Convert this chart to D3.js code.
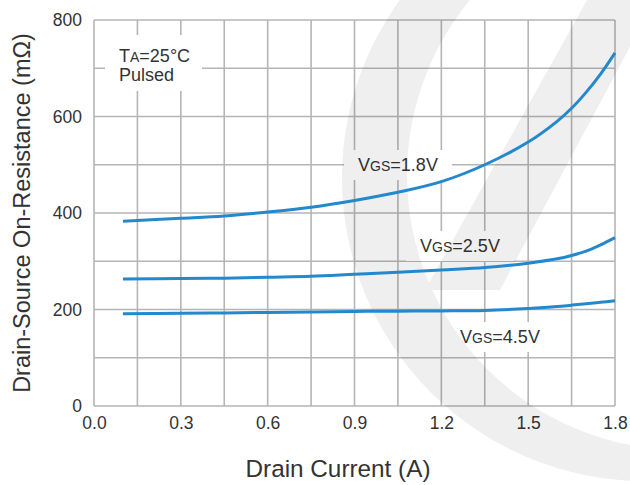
<!DOCTYPE html>
<html>
<head>
<meta charset="utf-8">
<script src="https://cdn.jsdelivr.net/npm/d3@7"></script>
<style>
  html, body { margin: 0; padding: 0; background: #fff; }
  svg { display: block; }
  text { font-family: "Liberation Sans", Arial, Helvetica, sans-serif; fill: #333; }
</style>
</head>
<body>
<svg id="chart" width="630" height="485"></svg>
<script>
// Drain current (A) sample points
const currentA = [0.1, 0.3, 0.45, 0.6, 0.75, 0.9, 1.05, 1.2, 1.35, 1.5, 1.6, 1.65, 1.7, 1.75, 1.8];
// On-resistance (mOhm) for each gate-source voltage
const rdsVgs18 = [383, 389, 394, 402, 412, 426, 443, 465, 500, 547, 590, 617, 650, 688, 732];
const rdsVgs25 = [263, 264, 265, 267, 269, 273, 277, 282, 287, 296, 305, 312, 321, 334, 349];
const rdsVgs45 = [191, 192, 193, 194, 195, 196, 196.5, 197, 198, 202, 206, 209, 212, 215, 218];

const seriesNames = ["1.8V", "2.5V", "4.5V"];
const xTickValues = [0, 0.3, 0.6, 0.9, 1.2, 1.5, 1.8];
const yTickValues = [0, 200, 400, 600, 800];

const svg = d3.select("#chart");
const plot = { left: 94, right: 615, top: 20, bottom: 406 };

const x = d3.scaleLinear().domain([0, 1.8]).range([plot.left, plot.right]);
const y = d3.scaleLinear().domain([0, 800]).range([plot.bottom, plot.top]);

const gridColor = "#b5b5b8";
const lineColor = "#2389cc";

// grid (minor divisions every 0.15 A and 100 mOhm)
const grid = svg.append("g");
grid.selectAll("line.v").data(d3.range(0, 13).map(i => i * 0.15)).join("line")
  .attr("x1", d => x(d)).attr("x2", d => x(d))
  .attr("y1", plot.top).attr("y2", plot.bottom)
  .attr("stroke", gridColor).attr("stroke-width", 1.6);
grid.selectAll("line.h").data(d3.range(0, 9).map(i => i * 100)).join("line")
  .attr("x1", plot.left).attr("x2", plot.right)
  .attr("y1", d => y(d)).attr("y2", d => y(d))
  .attr("stroke", gridColor).attr("stroke-width", 1.6);

// axes: tick labels only
const xAxis = svg.append("g")
  .attr("transform", `translate(0,${plot.bottom + 8})`)
  .call(d3.axisBottom(x).tickValues(xTickValues).tickFormat(d3.format(".1f")).tickSize(0));
xAxis.select(".domain").remove();
xAxis.selectAll("text").attr("font-size", 17.5).attr("fill", "#333")
  .attr("font-family", "Liberation Sans, Arial, sans-serif");

const yAxis = svg.append("g")
  .attr("transform", `translate(${plot.left - 10},0)`)
  .call(d3.axisLeft(y).tickValues(yTickValues).tickFormat(d3.format("d")).tickSize(0));
yAxis.select(".domain").remove();
yAxis.selectAll("text").attr("font-size", 17.5).attr("fill", "#333")
  .attr("font-family", "Liberation Sans, Arial, sans-serif").attr("x", -2);

// axis titles
svg.append("text")
  .attr("x", 338).attr("y", 477)
  .attr("text-anchor", "middle").attr("font-size", 24.3)
  .text("Drain Current (A)");
svg.append("text")
  .attr("transform", `translate(30,${(plot.top + plot.bottom) / 2}) rotate(-90)`)
  .attr("text-anchor", "middle").attr("font-size", 23.5)
  .text("Drain-Source On-Resistance (mΩ)");

// labelled text blocks with white backing
function boxedLabel(parts, cx, baseline, padX, padY) {
  const g = svg.append("g");
  const rect = g.append("rect").attr("fill", "#fff");
  const t = g.append("text").attr("x", cx).attr("y", baseline)
    .attr("text-anchor", "middle").attr("font-size", 18);
  parts.forEach(p => t.append("tspan").attr("font-size", p.size || 18).text(p.text));
  const b = t.node().getBBox();
  rect.attr("x", b.x - padX).attr("y", b.y - padY)
    .attr("width", b.width + 2 * padX).attr("height", b.height + 2 * padY);
  return g;
}

const vgsLabels = [
  { name: seriesNames[0], cx: 398, base: 171 },
  { name: seriesNames[1], cx: 460, base: 252 },
  { name: seriesNames[2], cx: 500, base: 343 }
];
vgsLabels.forEach(l => {
  boxedLabel([{ text: "V" }, { text: "GS", size: 14 }, { text: "=" + l.name }], l.cx, l.base, 14, 5);
});

// ambient conditions block
const cond = svg.append("g");
cond.append("rect").attr("x", 105).attr("y", 35).attr("width", 97).attr("height", 56).attr("fill", "#fff");
const c1 = cond.append("text").attr("x", 119).attr("y", 62).attr("font-size", 18);
c1.append("tspan").text("T");
c1.append("tspan").attr("font-size", 14).text("A");
c1.append("tspan").text("=25°C");
cond.append("text").attr("x", 119).attr("y", 81).attr("font-size", 18).text("Pulsed");

// faint background emblem
const mark = svg.append("g").attr("opacity", 0.06);
const circ = (cx, cy, r) => `M${cx - r},${cy}a${r},${r} 0 1,0 ${2 * r},0a${r},${r} 0 1,0 ${-2 * r},0Z`;
mark.append("path")
  .attr("d", circ(645, 178, 303) + circ(682, 175, 275))
  .attr("fill-rule", "evenodd").attr("fill", "#000");
mark.append("path")
  .attr("d", "M587,0L655,0L500,290L425,290Z")
  .attr("fill", "#000");

// curves
const seriesData = [rdsVgs18, rdsVgs25, rdsVgs45];
const line = d3.line()
  .x((d, i) => x(currentA[i]))
  .y(d => y(d))
  .curve(d3.curveCatmullRom.alpha(0.5));
svg.append("g").selectAll("path").data(seriesData).join("path")
  .attr("d", d => line(d))
  .attr("fill", "none").attr("stroke", lineColor).attr("stroke-width", 3)
  .attr("stroke-linecap", "butt");
</script>
</body>
</html>
